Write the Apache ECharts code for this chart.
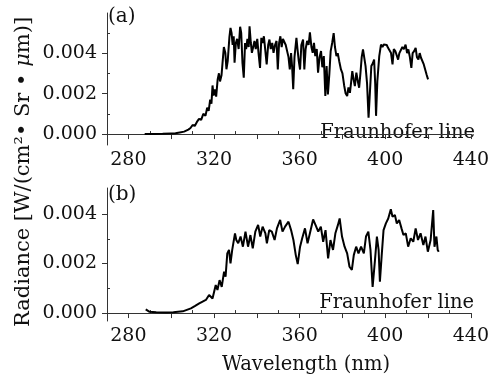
<!DOCTYPE html>
<html><head><meta charset="utf-8">
<script src="https://cdn.jsdelivr.net/npm/echarts@6/dist/echarts.min.js"></script>
<style>html,body{margin:0;padding:0;background:#fff;}#c{width:492px;height:379px;}</style>
</head><body><div id="c"></div>
<script>
// ---- data ----
const topWavelength = [287.6,292,296,300,302,304,306,308,309,310,311,312,313,314,315,316,316.8,317.5,318.2,318.8,319.3,319.8,320.4,321,321.7,322.3,322.8,323.5,324.2,324.6,325.3,325.8,326.4,327.2,327.7,328.2,328.7,329.2,329.6,330.2,330.8,331.5,332.2,332.7,333.3,333.9,334.5,335,335.6,336.2,336.6,337.2,337.7,338.3,338.9,339.5,340.2,340.8,341.5,342.1,342.7,343.3,343.9,344.6,345.3,345.9,346.5,347.2,347.8,348.5,349.2,349.8,350.4,351,351.6,352.2,352.9,353.5,354.1,354.8,355.4,356,356.5,357,357.6,358.5,359,359.6,360.2,360.8,361.6,362.2,362.8,363.5,364.2,364.8,365.5,366.1,366.7,367.3,368,368.6,369.3,370,370.6,371.3,372,372.6,373.2,373.9,374.5,375.2,375.9,376.5,377.2,377.8,378.5,379.3,380,380.8,381.5,382.2,382.8,383.5,384.1,384.6,385.2,385.8,386.5,387.2,387.8,388.4,389,389.6,390.2,390.8,391.5,392.2,392.8,393.5,394.2,394.8,395.3,395.7,396.3,397.2,398,398.7,399.3,400,400.7,401.3,402,402.7,403.4,404,404.7,405.3,406,406.6,407.3,408,408.7,409.5,410.2,410.8,411.5,412.2,412.8,413.5,414.2,414.8,415.5,416.1,416.7,417.4,418,418.7,419.3,420];
const topRadiance = [0.0000,0.0000,0.00001,0.00003,0.00004,0.00008,0.00012,0.00022,0.00030,0.00045,0.00040,0.00060,0.00075,0.00070,0.00100,0.00090,0.00130,0.00115,0.00170,0.00150,0.00240,0.00190,0.00220,0.00185,0.00270,0.00300,0.00260,0.00290,0.00380,0.00430,0.00400,0.00320,0.00360,0.00480,0.00524,0.00500,0.00440,0.00483,0.00352,0.00450,0.00470,0.00420,0.00530,0.00500,0.00350,0.00278,0.00450,0.00420,0.00470,0.00430,0.00532,0.00450,0.00401,0.00430,0.00460,0.00420,0.00470,0.00400,0.00327,0.00475,0.00450,0.00483,0.00420,0.00344,0.00440,0.00467,0.00420,0.00450,0.00401,0.00440,0.00460,0.00319,0.00450,0.00483,0.00430,0.00470,0.00475,0.00440,0.00434,0.00380,0.00319,0.00400,0.00330,0.00221,0.00380,0.00475,0.00420,0.00360,0.00319,0.00440,0.00467,0.00319,0.00420,0.00460,0.00440,0.00503,0.00430,0.00401,0.00450,0.00385,0.00420,0.00303,0.00380,0.00410,0.00330,0.00385,0.00188,0.00336,0.00196,0.00300,0.00410,0.00450,0.00499,0.00430,0.00385,0.00400,0.00360,0.00319,0.00300,0.00240,0.00200,0.00188,0.00230,0.00204,0.00260,0.00311,0.00270,0.00237,0.00303,0.00260,0.00229,0.00300,0.00380,0.00418,0.00410,0.00336,0.00250,0.00081,0.00200,0.00336,0.00350,0.00368,0.00250,0.00090,0.00260,0.00385,0.00442,0.00430,0.00442,0.00434,0.00440,0.00426,0.00434,0.00400,0.00344,0.00420,0.00410,0.00410,0.00368,0.00400,0.00393,0.00430,0.00420,0.00442,0.00400,0.00418,0.00380,0.00327,0.00400,0.00410,0.00426,0.00380,0.00368,0.00400,0.00377,0.00380,0.00344,0.00350,0.00294,0.00270];

const bottomWavelength = [288.1,289.0,289.9,293,297.6,301,305.4,309.2,311,313.1,316.2,317.7,319.3,320.8,321.6,322.6,323.6,324.7,325.4,326.2,327.0,327.7,328.5,329.8,330.4,331.3,332.4,333.5,334.7,335.9,337.0,338.1,339.3,340.6,341.6,342.7,344.0,344.7,345.8,347.0,348.3,349.4,350.9,352.0,353.2,354.8,356.0,357.1,358.2,359.1,360.2,361.2,362.5,363.7,364.8,366.3,367.4,368.7,369.9,371.0,372.1,373.3,374.4,375.6,376.7,377.9,378.7,379.8,381.0,382.2,383.3,384.4,385.3,386.4,387.5,388.7,390.0,391.0,392.1,393.1,394.1,395.2,396.1,396.9,397.5,398.3,399.2,400.3,401.4,402.6,403.4,404.5,405.4,406.5,407.6,408.5,409.6,410.7,411.9,413.1,414.2,415.3,416.5,417.8,418.8,419.9,421.2,422.4,423.0,423.9,424.5,425.0];
const bottomRadiance = [0.00015,0.00008,0.00005,0.00003,0.00002,0.00003,0.00007,0.00019,0.00028,0.00039,0.00053,0.00073,0.00059,0.00113,0.00093,0.00133,0.00106,0.00167,0.00147,0.00241,0.00255,0.00201,0.00255,0.00322,0.00295,0.00282,0.00309,0.00268,0.00329,0.00268,0.00315,0.00261,0.00329,0.00356,0.00309,0.00349,0.00322,0.00282,0.00335,0.00329,0.00295,0.00342,0.00376,0.00329,0.00349,0.00369,0.00335,0.00295,0.00234,0.00198,0.00268,0.00302,0.00342,0.00282,0.00322,0.00378,0.00356,0.00329,0.00349,0.00288,0.00335,0.00221,0.00295,0.00255,0.00322,0.00356,0.00382,0.00309,0.00268,0.00241,0.00187,0.00174,0.00234,0.00268,0.00241,0.00268,0.00241,0.00309,0.00329,0.00255,0.00106,0.00214,0.00309,0.00255,0.00127,0.00228,0.00335,0.00362,0.00382,0.00419,0.00389,0.00396,0.00362,0.00376,0.00342,0.00315,0.00322,0.00268,0.00302,0.00288,0.00342,0.00295,0.00322,0.00275,0.00309,0.00248,0.00295,0.00416,0.00268,0.00309,0.00255,0.00248];

const xLabelValues = [280,320,360,400,440];
const xMajorTickValues = [280,300,320,340,360,380,400,420,440];
const xMinorTickValues = [290,310,330,350,370,390,410,430];
const yLabelValues = [0,0.002,0.004];
const yMinorTopValues = [0.001,0.003,0.005];
const yMinorBottomValues = [0.001,0.003];
const panelLabels = ['(a)','(b)'];
const noteText = 'Fraunhofer line';
const xTitle = 'Wavelength (nm)';

// ---- chart ----
const FONT = '"DejaVu Serif", "Liberation Serif", serif';
const AX = '#333';
const TXT = '#111';
const chart = echarts.init(document.getElementById('c'), null, {renderer:'canvas'});

function mainX(gi, showLabel){
  return {type:'value', gridIndex:gi, min:270, max:440,
    axisLine:{show:true, lineStyle:{color:AX, width:1}},
    axisTick:{show:true, inside:false, length:5, customValues:xMajorTickValues, lineStyle:{color:AX}},
    axisLabel:{show:showLabel, customValues:xLabelValues, margin:6, color:TXT, fontFamily:FONT, fontSize:19},
    splitLine:{show:false}};
}
function minorX(gi){
  return {type:'value', gridIndex:gi, min:270, max:440, position:'bottom',
    axisLine:{show:false},
    axisTick:{show:true, inside:true, length:3, customValues:xMinorTickValues, lineStyle:{color:AX}},
    axisLabel:{show:false}, splitLine:{show:false}};
}
function mainY(gi, mn, mx){
  return {type:'value', gridIndex:gi, min:mn, max:mx,
    axisLine:{show:true, lineStyle:{color:AX, width:1}},
    axisTick:{show:true, inside:false, length:5, customValues:yLabelValues, lineStyle:{color:AX}},
    axisLabel:{show:true, customValues:yLabelValues, margin:10, color:TXT, fontFamily:FONT, fontSize:19,
      formatter:v=>Number(v).toFixed(3)},
    splitLine:{show:false}};
}
function minorY(gi, mn, mx, vals){
  return {type:'value', gridIndex:gi, min:mn, max:mx, position:'left',
    axisLine:{show:false},
    axisTick:{show:true, inside:true, length:3, customValues:vals, lineStyle:{color:AX}},
    axisLabel:{show:false}, splitLine:{show:false}};
}

const topData = topWavelength.map((w,i)=>[w, topRadiance[i]]);
const bottomData = bottomWavelength.map((w,i)=>[w, bottomRadiance[i]]);

const option = {
  animation:false,
  backgroundColor:'#fff',
  grid:[
    {left:107, top:13, width:367, height:132},
    {left:107, top:188, width:367, height:133}
  ],
  xAxis:[mainX(0,true), mainX(1,true), minorX(0), minorX(1)],
  yAxis:[mainY(0,-0.00054,0.00598), mainY(1,-0.00032,0.00505),
         minorY(0,-0.00054,0.00598,yMinorTopValues), minorY(1,-0.00032,0.00505,yMinorBottomValues)],
  series:[
    {type:'line', xAxisIndex:0, yAxisIndex:0, data:topData, showSymbol:false, symbol:'none',
     lineStyle:{color:'#000', width:2}, z:5},
    {type:'line', xAxisIndex:1, yAxisIndex:1, data:bottomData, showSymbol:false, symbol:'none',
     lineStyle:{color:'#000', width:2}, z:5}
  ],
  graphic:[
    {type:'text', left:108, top:7, style:{text:panelLabels[0], font:'20px '+FONT, fill:TXT}},
    {type:'text', left:108, top:185, style:{text:panelLabels[1], font:'20px '+FONT, fill:TXT}},
    {type:'text', x:475, y:143, style:{text:noteText, font:'19.5px '+FONT, fill:TXT, textAlign:'right', textVerticalAlign:'bottom'}},
    {type:'text', x:474, y:313, style:{text:noteText, font:'19.5px '+FONT, fill:TXT, textAlign:'right', textVerticalAlign:'bottom'}},
    {type:'text', x:306, y:365, style:{text:xTitle, font:'19.5px '+FONT, fill:TXT, textAlign:'center', textVerticalAlign:'middle'}},
    {type:'text', x:24, y:172, rotation:Math.PI/2,
     style:{text:'{n|Radiance [W/(cm²• Sr • }{i|μ}{n|m)]}', textAlign:'center', textVerticalAlign:'middle', fill:TXT,
       rich:{n:{fontFamily:FONT, fontSize:21, fill:TXT, color:TXT}, i:{fontFamily:FONT, fontSize:21, fontStyle:'italic', fill:TXT, color:TXT}}}}
  ]
};
chart.setOption(option);
</script>
</body></html>
